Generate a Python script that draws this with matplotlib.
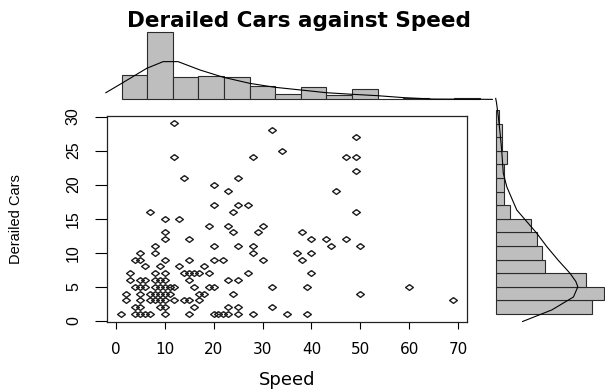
import numpy as np
import matplotlib
matplotlib.use("Agg")
import matplotlib.pyplot as plt

# scatter data: speed vs derailed cars
speed = [12, 32, 34, 12, 28, 14, 25, 20, 23, 20, 25, 27, 24, 7, 10, 13, 19, 23, 30,
         10, 24, 29, 10, 15, 8, 20, 25, 28, 5, 8, 28, 4, 5, 10, 15, 20, 22, 30,
         6, 9, 13, 18, 3, 8, 10, 14, 15, 16, 17, 19, 27, 3, 5, 6, 8, 9, 10, 15, 23, 25,
         4, 5, 6, 8, 9, 10, 11, 12, 16, 19, 20, 32, 2, 5, 7, 8, 9, 10, 11, 17, 18, 24,
         2, 5, 7, 8, 9, 10, 12, 14, 15, 17, 4, 5, 9, 10, 16, 23, 25, 32,
         1, 4, 5, 6, 7, 10, 15, 20, 21, 22, 23, 25, 28, 35,
         49, 47, 49, 49, 45, 49, 38, 40, 43, 47, 44, 50, 37, 40, 38, 40, 39, 60, 50, 69, 39]
cars = [29, 28, 25, 24, 24, 21, 21, 20, 19, 17, 17, 17, 16, 16, 15, 15, 14, 14, 14,
        13, 13, 13, 12, 12, 11, 11, 11, 11, 10, 10, 10, 9, 9, 9, 9, 9, 9, 9,
        8, 8, 8, 8, 7, 7, 7, 7, 7, 7, 7, 7, 7, 6, 6, 6, 6, 6, 6, 6, 6, 6,
        5, 5, 5, 5, 5, 5, 5, 5, 5, 5, 5, 5, 4, 4, 4, 4, 4, 4, 4, 4, 4, 4,
        3, 3, 3, 3, 3, 3, 3, 3, 3, 3, 2, 2, 2, 2, 2, 2, 2, 2,
        1, 1, 1, 1, 1, 1, 1, 1, 1, 1, 1, 1, 1, 1,
        27, 24, 24, 22, 19, 16, 13, 12, 12, 12, 11, 11, 10, 10, 9, 7, 5, 5, 4, 3, 1]

# marginal histogram of speed
speed_edges = [0, 5, 10, 15, 20, 25, 30, 35, 40, 45, 50, 55, 60, 65, 70]
speed_counts = [22, 60, 20, 21, 20, 12, 5, 11, 4, 9, 0, 1, 0, 1]
speed_dens_x = [-3.1, 0, 4.9, 8.1, 11, 15.3, 19.9, 25, 29.9, 35, 40, 45, 49.9, 55.2, 60.7, 69.9, 72.4]
speed_dens_y = [6.0, 14.3, 27.6, 33.5, 33.5, 26.1, 19.6, 14.3, 10.8, 8.4, 6.0, 4.6, 3.4, 1.6, 0.4, 0.2, 0.1]

# marginal histogram of derailed cars
cars_edges = [0, 2, 4, 6, 8, 10, 12, 14, 16, 18, 20, 22, 24, 26, 28, 30]
cars_counts = [33, 37, 31, 17, 16, 14, 12, 5, 3, 3, 3, 4, 2, 2, 1]
cars_dens_y = [-1.1, 0.6, 2.5, 4.0, 4.8, 6.0, 7.9, 9.9, 11.9, 13.6, 15.3, 18.7, 20.7, 24.1, 26.6, 29.0, 31.0, 31.7]
cars_dens_x = [9.2, 19.2, 26.6, 28.1, 27.4, 25.4, 21.4, 17.5, 14.0, 10.6, 7.2, 3.8, 2.6, 2.05, 1.5, 0.9, 0.3, 0.0]

W, H = 605, 389
fig = plt.figure(figsize=(W / 100, H / 100), dpi=100)


def px_axes(l, t, r, b):
    return fig.add_axes([l / W, 1 - b / H, (r - l) / W, (b - t) / H])


narrow = 'Liberation Sans'
fill = '#bebebe'
edge = '#2b2b2b'

# main scatter
ax = px_axes(107.3, 115.7, 466.7, 321.7)
diamond = [(0, 0.75), (1, 0), (0, -0.75), (-1, 0), (0, 0.75)]
ax.plot(speed, cars, linestyle='none', marker=diamond, markersize=5.6,
        markerfacecolor='none', markeredgecolor='#1e1e1e', markeredgewidth=1.0)
ax.set_xlim(-1.72, 71.72)
ax.set_ylim(-0.12, 30.12)
ax.set_xticks(range(0, 71, 10))
ax.set_yticks(range(0, 31, 5))
ax.tick_params(axis='x', direction='out', length=5, width=0.8, pad=9.5, labelsize=11)
ax.tick_params(axis='y', direction='out', length=8.5, width=0.8, pad=10.5)
for lab in ax.get_yticklabels():
    lab.set_rotation(90)
    lab.set_va('center')
    lab.set_family(narrow)
    lab.set_fontsize(11.5)
for s in ax.spines.values():
    s.set_linewidth(0.9)
    s.set_color('#222222')

fig.text(287 / W, 1 - 380 / H, 'Speed', ha='center', va='center', fontsize=13)
fig.text(16 / W, 1 - 219 / H, 'Derailed Cars', ha='center', va='center',
         rotation=90, fontsize=10.5, family=narrow)
fig.text(299 / W, 1 - 26.7 / H, 'Derailed Cars against Speed', ha='center',
         va='baseline', fontsize=15.5, fontweight='bold')

# top histogram
axt = px_axes(100, 25, 500, 101)
axt.bar(speed_edges[:-1], speed_counts, width=5, align='edge', color=fill,
        edgecolor=edge, linewidth=0.8)
axt.plot(speed_dens_x, speed_dens_y, color='black', linewidth=0.8)
axt.set_xlim(-4.24, 73.9)
axt.set_ylim(-1.33, 65.9)
axt.axis('off')

# right histogram
axr = px_axes(490, 95, 605, 330)
axr.barh(cars_edges[:-1], cars_counts, height=2, align='edge', color=fill,
         edgecolor=edge, linewidth=0.8)
axr.plot(cars_dens_x, cars_dens_y, color='black', linewidth=0.8)
axr.set_xlim(-1.95, 37.4)
axr.set_ylim(-2.35, 32.2)
axr.axis('off')

fig.savefig('out.png', dpi=100)
